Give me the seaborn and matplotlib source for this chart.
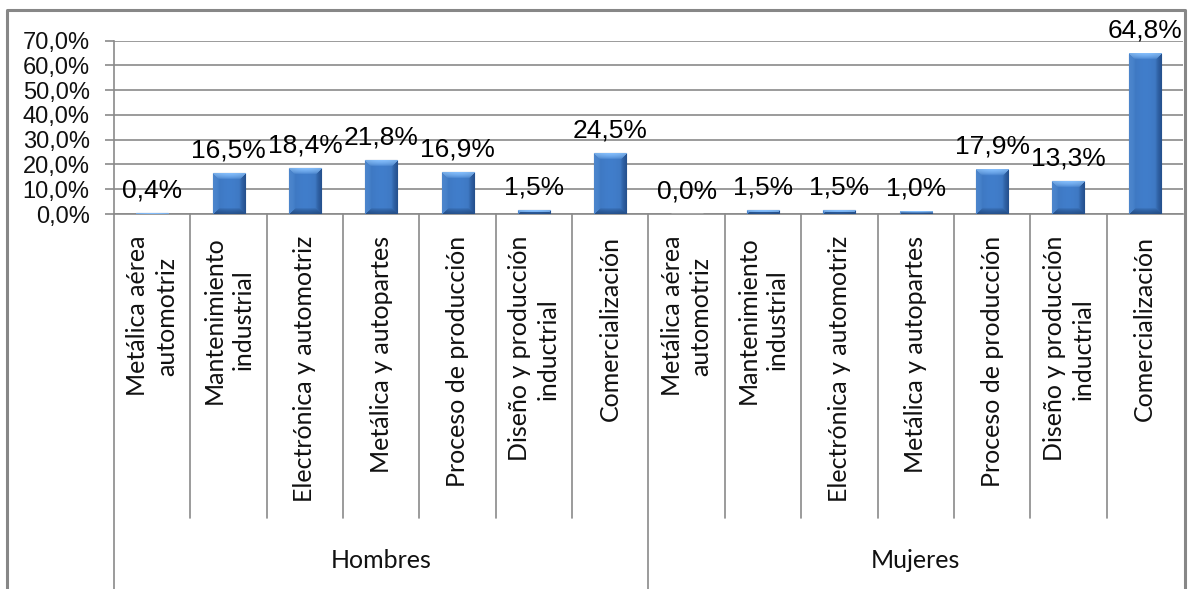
import numpy as np
import pandas as pd
import matplotlib
matplotlib.use("Agg")
import matplotlib.pyplot as plt
from matplotlib.lines import Line2D
import matplotlib.transforms as mtransforms
import seaborn as sns

# ---- data -------------------------------------------------------------
groups = ["Hombres", "Mujeres"]
careers = [
    "Metálica aérea\nautomotriz",
    "Mantenimiento\nindustrial",
    "Electrónica y automotriz",
    "Metálica y autopartes",
    "Proceso de producción",
    "Diseño y producción\ninductrial",
    "Comercialización",
]
hombres = [0.4, 16.5, 18.4, 21.8, 16.9, 1.5, 24.5]
mujeres = [0.0, 1.5, 1.5, 1.0, 17.9, 13.3, 64.8]
y_ticks = [0, 10, 20, 30, 40, 50, 60, 70]

rows = []
for g, vals in zip(groups, [hombres, mujeres]):
    for c, v in zip(careers, vals):
        rows.append({"grupo": g, "carrera": c, "key": f"{g}|{c}", "pct": v})
df = pd.DataFrame(rows)
order = list(df["key"])

# ---- style ------------------------------------------------------------
sns.set_theme(style="white")
plt.rcParams["font.family"] = ["Liberation Sans", "DejaVu Sans"]
GRID = "#8a8a8a"
CAT_FONT = ["Lato", "DejaVu Sans"]

W, H = 1188, 589
fig = plt.figure(figsize=(W / 100, H / 100), dpi=100)
ax = fig.add_axes([114 / W, 1 - 214 / H, (1183 - 114) / W, (214 - 40.7) / H])

sns.barplot(data=df, x="key", y="pct", order=order, color="#3b72b8",
            width=0.42, saturation=1, ax=ax, errorbar=None, zorder=3)

n = len(order)
ax.set_xlim(-0.5, n - 0.5)
ax.set_ylim(0, 70)
ax.set_yticks(y_ticks)
ax.set_yticklabels([f"{t:.1f}%".replace(".", ",") for t in y_ticks],
                   fontsize=17, color="#111111")
ax.set_xticks([])
ax.set_xlabel("")
ax.set_ylabel("")
ax.yaxis.grid(True, color=GRID, linewidth=1.2, zorder=0)
ax.tick_params(axis="y", direction="out", length=6.5, width=1.2,
               color=GRID, pad=11, left=True)
for side in ["top", "right"]:
    ax.spines[side].set_visible(False)
for side in ["left", "bottom"]:
    ax.spines[side].set_color(GRID)
    ax.spines[side].set_linewidth(1.2)

# ---- bevelled bar shading --------------------------------------------
fig.canvas.draw()
c_face = np.array([0x3b, 0x72, 0xb8]) / 255
c_top = np.array([0x7a, 0xae, 0xe6]) / 255
c_left = np.array([0x4d, 0x86, 0xcc]) / 255
c_right = np.array([0x24, 0x4f, 0x8c]) / 255
c_bot = np.array([0x22, 0x4a, 0x80]) / 255
bev = 6.0
for p in ax.patches:
    x0, y0 = p.get_x(), p.get_y()
    w, h = p.get_width(), p.get_height()
    if h <= 0:
        continue
    (px0, py0), (px1, py1) = ax.transData.transform([(x0, y0), (x0 + w, y0 + h)])
    nx = max(int(round(px1 - px0)), 2)
    ny = max(int(round(py1 - py0)), 1)
    u = np.arange(nx)[None, :] + 0.5
    v = np.arange(ny)[:, None] + 0.5  # from bottom
    # distance to each edge; top first so very short bars show the highlight
    dt = np.broadcast_to(ny - v, (ny, nx))
    dl = np.broadcast_to(u, (ny, nx))
    dr = np.broadcast_to(nx - u, (ny, nx))
    db = np.broadcast_to(v, (ny, nx))
    d = np.stack([dt, dl, dr, db])
    which = d.argmin(axis=0)
    dmin = d.min(axis=0)
    img = np.empty((ny, nx, 3))
    img[:] = c_face
    edge_cols = [c_top, c_left, c_right, c_bot]
    for k, col in enumerate(edge_cols):
        m = (which == k) & (dmin < bev)
        t = (1 - dmin[m] / bev)[:, None] ** 0.6
        img[m] = c_face * (1 - t) + col * t
    # soft vertical sheen across the face
    sheen = 1 + 0.10 * np.sin(np.pi * u / nx)
    img = np.clip(img * sheen[..., None], 0, 1)
    ax.imshow(img, extent=[x0, x0 + w, y0, y0 + h], origin="lower",
              aspect="auto", zorder=4, interpolation="bilinear")
    p.set_edgecolor("#1d3f6e")
    p.set_linewidth(0.8)
ax.set_xlim(-0.5, n - 0.5)
ax.set_ylim(0, 70)

# ---- value labels ----------------------------------------------------
for i, v in enumerate(df["pct"]):
    ax.annotate(f"{v:.1f}%".replace(".", ","), (i, v), xytext=(0, 11.5),
                textcoords="offset points", ha="center", va="baseline",
                fontsize=19, color="#000000", annotation_clip=False, zorder=6)

# ---- two-level category axis ------------------------------------------
trans = mtransforms.blended_transform_factory(ax.transData, ax.transAxes)
ax_h = 214 - 40.7
inner_bottom = -(518 - 214) / ax_h
outer_bottom = -(600 - 214) / ax_h
label_top = -(236 - 214) / ax_h
group_y = -(560 - 214) / ax_h

for b in np.arange(-0.5, n, 1.0):
    if b in (-0.5, 6.5):
        yb = outer_bottom
    elif b >= n - 0.5:
        continue
    else:
        yb = inner_bottom
    ax.add_line(Line2D([b, b], [0, yb], transform=trans, color=GRID,
                       linewidth=1.2, clip_on=False))

for i, c in enumerate(df["carrera"]):
    ax.text(i, label_top, c, transform=trans, rotation=90,
            rotation_mode="anchor", ha="right", va="center",
            multialignment="center", fontsize=18, family=CAT_FONT,
            color="#111111", linespacing=1.3)

for gi, g in enumerate(groups):
    center = gi * 7 + 3
    ax.text(center, group_y, g, transform=trans, ha="center", va="center",
            fontsize=18, family=CAT_FONT, color="#111111")

# ---- chart frame --------------------------------------------------------
fx0, fx1 = 7 / W, 1185 / W
fy1 = 1 - 10 / H
fig.add_artist(Line2D([fx0, fx0, fx1, fx1], [-0.05, fy1, fy1, -0.05],
                      transform=fig.transFigure, color="#878787", linewidth=2.2))

fig.savefig("out.png", dpi=100, facecolor="white")
